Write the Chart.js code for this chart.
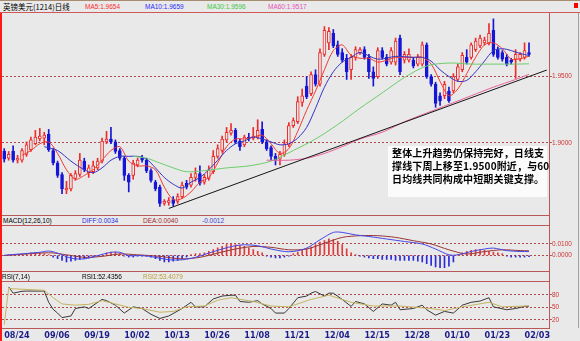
<!DOCTYPE html>
<html>
<head>
<meta charset="utf-8">
<title>英镑美元(1214)日线</title>
<script src="https://cdn.jsdelivr.net/npm/chart.js@4/dist/chart.umd.min.js"></script>
<style>
  html, body { margin: 0; padding: 0; background: #e9e9e9; }
  #wrap { position: relative; width: 580px; height: 341px; overflow: hidden; background: #e9e9e9;
          font-family: "Liberation Sans", Arial, sans-serif; }
  #wrap canvas { position: absolute; left: 0; }
  .rule { position: absolute; box-sizing: border-box; }
  .lbl { position: absolute; white-space: nowrap; font-size: 6.5px; line-height: 9px; }
  #note { position: absolute; left: 388px; top: 146px; width: 159px; height: 51px; background: #fbfbfb;
          font: bold 10px/13px "Noto Sans CJK SC", sans-serif; padding-left: 4px; box-sizing: border-box;
          color: #000; letter-spacing: 0.15px; white-space: nowrap; }
</style>
</head>
<body>
<div id="wrap">
  <!-- title row -->
  <div class="rule" style="left:0;top:0;width:580px;height:13px;border-top:1px solid #a88c70;border-bottom:1px solid #d05a5a;"></div>
  <span class="lbl" style="left:3px;top:2px;font-family:'Noto Sans CJK SC';font-size:7.5px;color:#000;">英镑美元(1214)日线</span>
  <span class="lbl" style="left:85px;top:2px;color:#ff2a2a;">MA5:1.9654</span>
  <span class="lbl" style="left:145px;top:2px;color:#2a2aff;">MA10:1.9659</span>
  <span class="lbl" style="left:207px;top:2px;color:#3cc83c;">MA30:1.9596</span>
  <span class="lbl" style="left:268px;top:2px;color:#e850b8;">MA60:1.9517</span>
  <div class="rule" style="left:574px;top:3px;width:4px;height:5px;background:#ff0000;"></div>

  <canvas id="price" width="580" height="202" style="top:13px;"></canvas>

  <!-- MACD header row -->
  <div class="rule" style="left:0;top:215px;width:549px;height:11px;border-top:1px solid #b85858;border-bottom:1px solid #b85858;"></div>
  <span class="lbl" style="left:3px;top:216px;color:#000;">MACD(12,26,10)</span>
  <span class="lbl" style="left:82px;top:216px;color:#2a2ae0;">DIFF:0.0034</span>
  <span class="lbl" style="left:143px;top:216px;color:#a02828;">DEA:0.0040</span>
  <span class="lbl" style="left:202px;top:216px;color:#4040d0;">-0.0012</span>

  <canvas id="macd" width="580" height="46" style="top:226px;"></canvas>

  <!-- RSI header row -->
  <div class="rule" style="left:0;top:271px;width:549px;height:11px;border-top:1px solid #b85858;border-bottom:1px solid #b85858;"></div>
  <span class="lbl" style="left:2px;top:272px;color:#000;">RSI(7,14)</span>
  <span class="lbl" style="left:82px;top:272px;color:#000;">RSI1:52.4356</span>
  <span class="lbl" style="left:143px;top:272px;color:#b8a040;">RSI2:53.4079</span>

  <canvas id="rsi" width="580" height="59" style="top:282px;"></canvas>

  <!-- frame -->
  <div class="rule" style="left:0;top:13px;width:2px;height:328px;background:#ff1a1a;"></div>
  <div class="rule" style="left:549px;top:13px;width:1px;height:315px;background:#b85858;"></div>
  <div class="rule" style="left:578px;top:13px;width:1px;height:315px;background:#a0a0a0;"></div>

  <div id="note">整体上升趋势仍保持完好，日线支<br>撑线下周上移至1.9500附近，与60<br>日均线共同构成中短期关键支撑。</div>
</div>

<script>
// x slots: one per trading day, a date label every 9 days
const slotCount = 123;
const tickStep = 9;
const tickDates = ['08/24', '09/06', '09/19', '10/02', '10/13', '10/26', '11/08',
                   '11/21', '12/04', '12/15', '12/28', '01/10', '01/23', '02/03'];

// daily candles
const opens = [
  1.8935, 1.8884, 1.8935, 1.8869, 1.8869, 1.8913, 1.8949, 1.8993, 1.9029, 1.9036,
  1.9065, 1.8942, 1.8848, 1.8761, 1.8645, 1.8652, 1.8732, 1.8761, 1.8862, 1.8775,
  1.8782, 1.8811, 1.8862, 1.9007, 1.9029, 1.9007, 1.8942, 1.8884, 1.8754, 1.8754,
  1.8833, 1.8884, 1.8869, 1.8790, 1.8703, 1.8666, 1.8543, 1.8551, 1.8572, 1.8558,
  1.8594, 1.8695, 1.8681, 1.8739, 1.8768, 1.8703, 1.8732, 1.8782, 1.8898, 1.8942,
  1.9022, 1.9072, 1.9094, 1.9014, 1.8985, 1.9043, 1.9036, 1.9043, 1.9101, 1.9007,
  1.8964, 1.8898, 1.8877, 1.8913, 1.8985, 1.9130, 1.9159, 1.9304, 1.9428, 1.9370,
  1.9515, 1.9442, 1.9667, 1.9754, 1.9826, 1.9739, 1.9681, 1.9638, 1.9551, 1.9645,
  1.9681, 1.9703, 1.9645, 1.9536, 1.9500, 1.9696, 1.9645, 1.9609, 1.9609, 1.9790,
  1.9623, 1.9623, 1.9623, 1.9594, 1.9594, 1.9739, 1.9500, 1.9442, 1.9355, 1.9355,
  1.9391, 1.9391, 1.9478, 1.9551, 1.9645, 1.9645, 1.9703, 1.9732, 1.9754, 1.9754,
  1.9848, 1.9703, 1.9681, 1.9645, 1.9623, 1.9631, 1.9631, 1.9645, 1.9681
];
const highs = [
  1.8956, 1.8935, 1.8978, 1.8906, 1.8956, 1.9007, 1.9043, 1.9094, 1.9109, 1.9080,
  1.9101, 1.8956, 1.8862, 1.8775, 1.8710, 1.8768, 1.8790, 1.8920, 1.8884, 1.8833,
  1.8862, 1.8884, 1.9036, 1.9087, 1.9116, 1.9022, 1.8956, 1.8898, 1.8768, 1.8869,
  1.8884, 1.8906, 1.8884, 1.8804, 1.8717, 1.8681, 1.8572, 1.8587, 1.8594, 1.8616,
  1.8703, 1.8717, 1.8768, 1.8811, 1.8826, 1.8761, 1.8826, 1.8942, 1.8985, 1.9051,
  1.9116, 1.9145, 1.9109, 1.9029, 1.9058, 1.9072, 1.9116, 1.9174, 1.9159, 1.9022,
  1.8978, 1.8920, 1.8935, 1.9022, 1.9152, 1.9188, 1.9348, 1.9406, 1.9500, 1.9536,
  1.9551, 1.9710, 1.9877, 1.9870, 1.9855, 1.9768, 1.9710, 1.9667, 1.9667, 1.9725,
  1.9718, 1.9725, 1.9667, 1.9573, 1.9718, 1.9718, 1.9667, 1.9718, 1.9790, 1.9812,
  1.9689, 1.9710, 1.9645, 1.9667, 1.9761, 1.9754, 1.9515, 1.9457, 1.9377, 1.9464,
  1.9420, 1.9522, 1.9594, 1.9681, 1.9703, 1.9754, 1.9790, 1.9812, 1.9797, 1.9899,
  1.9935, 1.9725, 1.9696, 1.9667, 1.9638, 1.9703, 1.9681, 1.9754, 1.9754
];
const lows = [
  1.8855, 1.8869, 1.8855, 1.8848, 1.8855, 1.8898, 1.8935, 1.8985, 1.9014, 1.8985,
  1.8935, 1.8833, 1.8739, 1.8616, 1.8616, 1.8638, 1.8717, 1.8746, 1.8782, 1.8739,
  1.8768, 1.8797, 1.8848, 1.8993, 1.8993, 1.8920, 1.8869, 1.8717, 1.8630, 1.8725,
  1.8819, 1.8855, 1.8775, 1.8703, 1.8638, 1.8521, 1.8529, 1.8529, 1.8521, 1.8543,
  1.8580, 1.8652, 1.8666, 1.8710, 1.8681, 1.8688, 1.8717, 1.8768, 1.8884, 1.8927,
  1.9007, 1.9058, 1.8993, 1.8942, 1.8971, 1.9014, 1.9022, 1.9029, 1.8993, 1.8942,
  1.8869, 1.8833, 1.8833, 1.8898, 1.8971, 1.9116, 1.9145, 1.9275, 1.9333, 1.9355,
  1.9428, 1.9428, 1.9652, 1.9703, 1.9718, 1.9652, 1.9609, 1.9478, 1.9478, 1.9623,
  1.9667, 1.9631, 1.9486, 1.9428, 1.9486, 1.9631, 1.9580, 1.9594, 1.9587, 1.9515,
  1.9602, 1.9609, 1.9565, 1.9580, 1.9580, 1.9486, 1.9428, 1.9268, 1.9283, 1.9333,
  1.9304, 1.9377, 1.9464, 1.9536, 1.9594, 1.9631, 1.9689, 1.9718, 1.9739, 1.9739,
  1.9652, 1.9631, 1.9616, 1.9580, 1.9594, 1.9486, 1.9616, 1.9631, 1.9652
];
const closes = [
  1.8877, 1.8913, 1.8869, 1.8884, 1.8942, 1.8985, 1.9022, 1.9043, 1.9051, 1.9058,
  1.8949, 1.8848, 1.8754, 1.8652, 1.8659, 1.8754, 1.8768, 1.8869, 1.8797, 1.8811,
  1.8826, 1.8862, 1.9014, 1.9029, 1.9007, 1.8935, 1.8884, 1.8754, 1.8703, 1.8848,
  1.8869, 1.8869, 1.8790, 1.8717, 1.8652, 1.8543, 1.8558, 1.8565, 1.8543, 1.8594,
  1.8681, 1.8666, 1.8739, 1.8768, 1.8695, 1.8739, 1.8797, 1.8898, 1.8956, 1.9029,
  1.9080, 1.9094, 1.9007, 1.8971, 1.9043, 1.9036, 1.9051, 1.9094, 1.9007, 1.8956,
  1.8898, 1.8869, 1.8913, 1.8993, 1.9130, 1.9167, 1.9312, 1.9355, 1.9348, 1.9515,
  1.9442, 1.9681, 1.9848, 1.9841, 1.9732, 1.9667, 1.9623, 1.9536, 1.9645, 1.9703,
  1.9703, 1.9645, 1.9536, 1.9486, 1.9696, 1.9645, 1.9594, 1.9696, 1.9768, 1.9536,
  1.9667, 1.9667, 1.9580, 1.9645, 1.9739, 1.9500, 1.9442, 1.9297, 1.9319, 1.9442,
  1.9319, 1.9500, 1.9573, 1.9660, 1.9609, 1.9739, 1.9768, 1.9790, 1.9776, 1.9826,
  1.9667, 1.9645, 1.9631, 1.9594, 1.9609, 1.9667, 1.9667, 1.9696, 1.9667
];

// moving averages as [day, value] readings
const ma5 = [[4,1.8906],[6,1.8942],[8,1.8993],[10,1.9007],[12,1.8920],[14,1.8797],[16,1.8725],
  [18,1.8754],[20,1.8797],[22,1.8869],[24,1.8942],[26,1.8971],[28,1.8862],[30,1.8826],[32,1.8826],
  [34,1.8797],[36,1.8666],[38,1.8572],[40,1.8580],[42,1.8630],[44,1.8703],[46,1.8739],[48,1.8848],
  [50,1.8971],[52,1.9029],[54,1.9029],[56,1.9043],[58,1.9058],[60,1.8993],[62,1.8920],[64,1.8956],
  [66,1.9087],[68,1.9246],[70,1.9391],[72,1.9551],[74,1.9696],[76,1.9739],[78,1.9660],[80,1.9638],
  [82,1.9638],[84,1.9609],[86,1.9623],[88,1.9645],[90,1.9645],[92,1.9645],[94,1.9645],[96,1.9594],
  [98,1.9464],[100,1.9355],[102,1.9406],[104,1.9522],[106,1.9645],[108,1.9739],[110,1.9754],
  [112,1.9710],[114,1.9631],[116,1.9634],[118,1.9654]];
const ma10 = [[9,1.8971],[12,1.8942],[15,1.8862],[18,1.8797],[20,1.8775],[22,1.8811],[24,1.8869],
  [26,1.8898],[28,1.8898],[30,1.8898],[32,1.8877],[34,1.8811],[36,1.8739],[38,1.8688],[40,1.8659],
  [42,1.8703],[44,1.8739],[46,1.8797],[48,1.8869],[50,1.8942],[52,1.8993],[54,1.9014],[56,1.9043],
  [58,1.9029],[60,1.9007],[62,1.8985],[64,1.8993],[66,1.9036],[68,1.9116],[70,1.9261],[72,1.9420],
  [74,1.9536],[76,1.9609],[78,1.9645],[80,1.9681],[84,1.9631],[88,1.9652],[92,1.9645],[94,1.9645],
  [96,1.9616],[98,1.9551],[100,1.9500],[102,1.9464],[104,1.9471],[106,1.9536],[108,1.9617],
  [110,1.9696],[112,1.9710],[114,1.9696],[116,1.9674],[118,1.9659]];
const ma30 = [[29,1.8898],[32,1.8884],[35,1.8848],[38,1.8811],[41,1.8782],[45,1.8790],[50,1.8811],
  [55,1.8826],[60,1.8862],[65,1.8942],[70,1.9029],[75,1.9138],[80,1.9261],[85,1.9377],[90,1.9493],
  [95,1.9580],[100,1.9602],[105,1.9594],[110,1.9594],[115,1.9594],[118,1.9596]];
const ma60 = [[59,1.8869],[64,1.8869],[68,1.8884],[72,1.8920],[76,1.8971],[80,1.9029],[85,1.9080],
  [90,1.9159],[95,1.9225],[100,1.9290],[105,1.9355],[110,1.9420],[115,1.9478],[118,1.9517]];
const supportLine = [[37,1.8505],[122,1.9549]];
const priceTicks = [1.90, 1.95];

// MACD(12,26,10)
const macdBars = [
  0, 0.0004, 0.0007, 0.0007, 0.0007, 0.0015, 0.0022, 0.0022, 0.0022, 0.0015,
  0.0007, -0.0015, -0.0029, -0.0044, -0.0058, -0.0051, -0.0044, -0.0036, -0.0029, -0.0022,
  -0.0015, -0.0007, 0.0007, 0.0022, 0.0029, 0.0029, 0.0015, -0.0007, -0.0015, -0.0015,
  -0.0007, -0.0007, -0.0007, -0.0015, -0.0029, -0.0044, -0.0058, -0.0058, -0.0051, -0.0044,
  -0.0029, -0.0015, 0.0007, 0.0015, 0.0015, 0.0022, 0.0036, 0.0051, 0.0066, 0.0080,
  0.0095, 0.0102, 0.0095, 0.0088, 0.0080, 0.0066, 0.0051, 0.0036, 0.0022, -0.0007,
  -0.0015, -0.0022, -0.0022, -0.0015, -0.0007, 0.0015, 0.0029, 0.0044, 0.0058, 0.0073,
  0.0095, 0.0117, 0.0131, 0.0146, 0.0139, 0.0124, 0.0095, 0.0058, 0.0022, 0.0007,
  -0.0007, -0.0015, -0.0022, -0.0029, -0.0029, -0.0036, -0.0036, -0.0036, -0.0044, -0.0044,
  -0.0044, -0.0044, -0.0044, -0.0051, -0.0058, -0.0073, -0.0088, -0.0102, -0.0109, -0.0109,
  -0.0095, -0.0058, 0.0007, 0.0022, 0.0036, 0.0044, 0.0051, 0.0051, 0.0044, 0.0036,
  0.0029, 0.0022, 0.0015, -0.0007, -0.0015, -0.0015, -0.0015, -0.0015, -0.0012
];
const diff = [[0,0.0001],[8,0.0027],[10,0.0038],[12,0.0020],[15,-0.0024],[18,-0.0031],[21,-0.0002],
  [24,0.0027],[26,0.0027],[28,-0.0002],[31,-0.0002],[34,-0.0017],[37,-0.0039],[40,-0.0039],
  [43,-0.0017],[46,0.0020],[49,0.0056],[52,0.0085],[54,0.0093],[57,0.0085],[60,0.0056],[63,0.0034],
  [65,0.0034],[68,0.0064],[71,0.0137],[74,0.0202],[76,0.0202],[79,0.0180],[82,0.0166],[86,0.0144],
  [90,0.0122],[94,0.0100],[97,0.0056],[100,0.0005],[102,0.0005],[105,0.0034],[108,0.0056],
  [110,0.0064],[113,0.0042],[116,0.0034],[118,0.0034]];
const dea = [[0,-0.0002],[10,0.0023],[14,0.0005],[18,-0.0017],[22,-0.0009],[26,0.0012],[30,0.0005],
  [35,-0.0009],[40,-0.0031],[44,-0.0017],[48,0.0020],[52,0.0056],[56,0.0078],[60,0.0071],[64,0.0049],
  [68,0.0056],[72,0.0107],[76,0.0158],[80,0.0173],[84,0.0173],[88,0.0158],[92,0.0129],[96,0.0100],
  [100,0.0049],[104,0.0012],[108,0.0034],[112,0.0049],[116,0.0042],[118,0.0040]];
const macdTicks = [0, 0.01];

// RSI(7,14)
const rsi1 = [[1,99],[2,84],[4,88.5],[5,89],[9,89],[10,62],[11,45],[12,36],[13,25],[15,29],[16,47],
  [18,51],[19,47],[22,69],[23,66],[25,55],[27,36],[29,51],[31,47],[33,33],[35,23],[37,29],[40,47],
  [42,62],[43,51],[45,51],[47,70],[49,77],[51,79],[52,79],[53,64],[55,62],[57,66],[58,58],[60,47],
  [61,36],[63,36],[64,47],[66,73],[68,77],[69,84],[70,88],[72,77],[73,84],[74,84],[76,69],[78,52],
  [79,64],[81,58],[83,40],[85,58],[87,55],[88,62],[89,44],[92,47],[94,55],[95,44],[97,31],[99,40],
  [101,36],[103,55],[105,62],[107,65],[109,73],[110,51],[113,44],[115,47],[117,52],[118,52.4]];
const rsi2 = [[0,8],[1,95],[9,91],[11,73],[13,58],[16,55],[19,57],[22,66],[25,58],[28,50],[31,47],
  [35,38],[38,40],[41,51],[45,53],[48,67],[51,73],[56,64],[60,53],[64,51],[69,69],[73,79],[78,62],
  [83,53],[89,53],[96,47],[99,42],[103,51],[109,62],[112,51],[118,53.4]];
const rsiTicks = [20, 50, 80];

const frameColor = '#b85858';
const gridColor = '#b04a4a';
const upColor = '#ee2c2c';
const downColor = '#1616d6';
const bgColor = '#e9e9e9';

const slots = Array.from({ length: slotCount }, (_, i) =>
  i % tickStep === 0 && tickDates[i / tickStep] ? tickDates[i / tickStep] : '');

function spread(pairs) {
  const out = new Array(slotCount).fill(null);
  pairs.forEach(([i, v]) => { out[i] = v; });
  return out;
}

function line(pairs, color, tension) {
  return { type: 'line', data: spread(pairs), borderColor: color, borderWidth: 1,
           pointRadius: 0, spanGaps: true, tension: tension, order: 1 };
}

function rightAxis(min, max, ticks, digits) {
  return {
    position: 'right', min: min, max: max,
    afterFit(scale) { scale.width = 31; },
    afterBuildTicks(scale) { scale.ticks = ticks.map(v => ({ value: v })); },
    grid: { color: gridColor, lineWidth: 1, drawTicks: true, tickLength: 3,
            tickColor: frameColor, tickBorderDash: [] },
    border: { display: false, dash: [2, 2] },
    ticks: { padding: 0, color: '#d03434', font: { family: 'Liberation Sans', size: 6.5 },
             callback: v => Number(v).toFixed(digits) }
  };
}

function bottomAxis(show) {
  return {
    type: 'category', offset: true, display: show,
    grid: { display: false, drawTicks: false },
    border: { display: show, color: frameColor },
    afterFit(scale) { if (show) scale.height = 13; },
    ticks: { autoSkip: false, maxRotation: 0, minRotation: 0, align: 'start', padding: 2,
             color: '#1c1c8a',
             font: { family: "'Liberation Sans Narrow', 'DejaVu Sans Condensed', sans-serif",
                     size: 9, weight: 'bold' } }
  };
}

function baseOptions(scales) {
  return {
    responsive: false, animation: false, devicePixelRatio: 1,
    layout: { padding: { left: 2, right: 0, top: 0, bottom: 0 } },
    plugins: { legend: { display: false }, tooltip: { enabled: false } },
    scales: scales
  };
}

const isUp = closes.map((c, i) => c >= opens[i]);
const candleColor = isUp.map(u => u ? upColor : downColor);

new Chart(document.getElementById('price'), {
  type: 'bar',
  data: {
    labels: slots,
    datasets: [
      { data: lows.map((l, i) => [l, highs[i]]), backgroundColor: candleColor,
        barThickness: 1, grouped: false, order: 5 },
      { data: opens.map((o, i) => [o, closes[i]]),
        backgroundColor: isUp.map(u => u ? bgColor : downColor),
        borderColor: candleColor, borderWidth: 1, borderSkipped: false,
        barThickness: 3, minBarLength: 1, grouped: false, order: 4 },
      line(supportLine, '#141414', 0),
      line(ma60, '#e8609c', 0.3),
      line(ma30, '#6ccc6c', 0.3),
      line(ma10, '#3434c4', 0.3),
      line(ma5, '#f03a30', 0.3)
    ]
  },
  options: baseOptions({ x: bottomAxis(false), y: rightAxis(1.8485, 1.995, priceTicks, 4) })
});

new Chart(document.getElementById('macd'), {
  type: 'bar',
  data: {
    labels: slots,
    datasets: [
      { data: macdBars, backgroundColor: macdBars.map(v => v >= 0 ? '#e03a3a' : '#2a2ad8'),
        barThickness: 1, grouped: false, order: 5 },
      line(diff, '#4646e6', 0.3),
      line(dea, '#9a3434', 0.3)
    ]
  },
  options: baseOptions({ x: bottomAxis(false), y: rightAxis(-0.0112, 0.0224, macdTicks, 4) })
});

new Chart(document.getElementById('rsi'), {
  type: 'line',
  data: {
    labels: slots,
    datasets: [
      line(rsi2, '#c4b460', 0),
      line(rsi1, '#383838', 0)
    ]
  },
  options: baseOptions({ x: bottomAxis(true), y: rightAxis(0, 101.5, rsiTicks, 0) })
});
</script>
</body>
</html>
